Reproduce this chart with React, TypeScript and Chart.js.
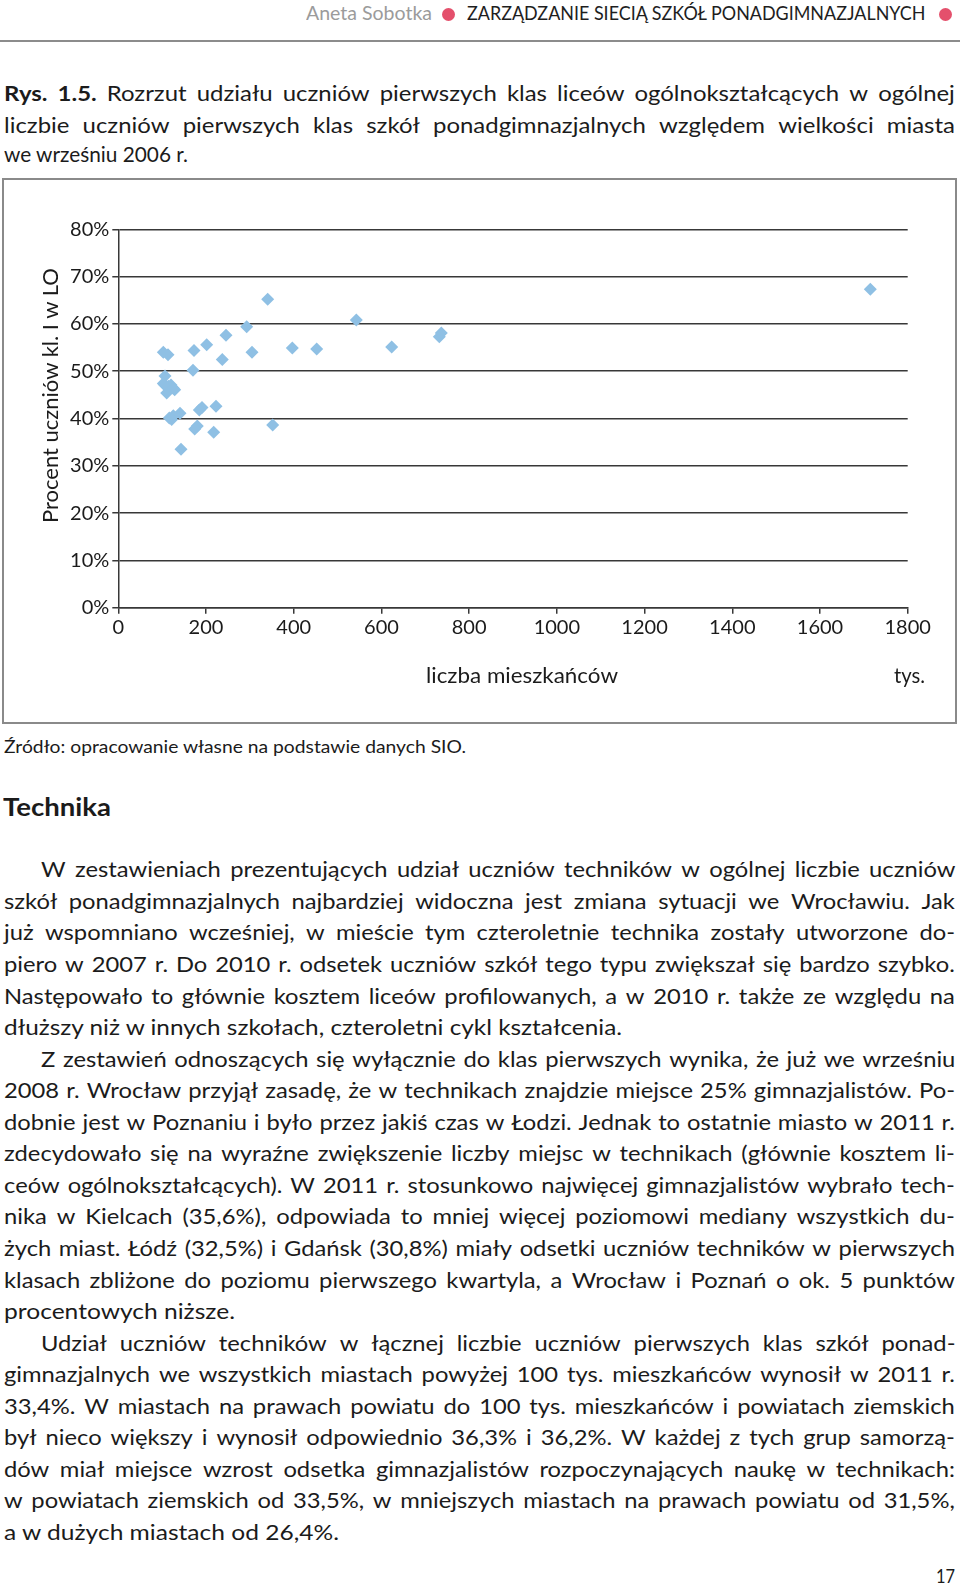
import React, { useEffect, useLayoutEffect, useRef } from "react";
import { Chart, registerables } from "chart.js";

Chart.register(...registerables);

// ---- data ----
const populationK: number[] = [
  102.6, 113.3, 106.5, 104.9, 117.9, 110.3, 128.6, 120.2, 102.6, 114.0, 125.4,
  116.3, 125.4, 121.8, 140.7, 143.0, 172.6, 170.3, 201.5, 245.6, 237.1, 292.8,
  304.9, 340.6, 190.9, 184.7, 222.8, 180.1, 174.2, 217.5, 352.0, 396.8, 452.4,
  542.7, 623.4, 732.0, 736.5, 1714.7,
];
const shareLO: number[] = [
  54.0, 53.5, 49.0, 47.2, 46.6, 45.4, 46.1, 47.1, 47.4, 46.8, 46.4,
  40.1, 40.6, 39.8, 41.1, 33.5, 54.4, 50.2, 55.6, 57.6, 52.5, 59.4,
  54.0, 65.2, 42.3, 41.8, 42.6, 38.4, 37.8, 37.1, 38.6, 54.9, 54.7,
  60.8, 55.1, 57.3, 58.1, 67.3,
];
const xTicks: number[] = [0, 200, 400, 600, 800, 1000, 1200, 1400, 1600, 1800];
const yTicks: number[] = [0, 10, 20, 30, 40, 50, 60, 70, 80];

const FONT = "Lato, 'Open Sans', sans-serif";
const TEXT = "#1b1b1b";
const SX = 1.08; // horizontal glyph scale to mimic the wider original typeface
const DY = 2.5;  // vertical nudge for running text

const captionLines: string[] = [
  "Rys. 1.5. Rozrzut udziału uczniów pierwszych klas liceów ogólnokształcących w ogólnej",
  "liczbie uczniów pierwszych klas szkół ponadgimnazjalnych względem wielkości miasta",
];

// [text, indent, justified]
const bodyLines: [string, boolean, boolean][] = [
  ["W zestawieniach prezentujących udział uczniów techników w ogólnej liczbie uczniów", true, true],
  ["szkół ponadgimnazjalnych najbardziej widoczna jest zmiana sytuacji we Wrocławiu. Jak", false, true],
  ["już wspomniano wcześniej, w mieście tym czteroletnie technika zostały utworzone do-", false, true],
  ["piero w 2007 r. Do 2010 r. odsetek uczniów szkół tego typu zwiększał się bardzo szybko.", false, true],
  ["Następowało to głównie kosztem liceów profilowanych, a w 2010 r. także ze względu na", false, true],
  ["dłuższy niż w innych szkołach, czteroletni cykl kształcenia.", false, false],
  ["Z zestawień odnoszących się wyłącznie do klas pierwszych wynika, że już we wrześniu", true, true],
  ["2008 r. Wrocław przyjął zasadę, że w technikach znajdzie miejsce 25% gimnazjalistów. Po-", false, true],
  ["dobnie jest w Poznaniu i było przez jakiś czas w Łodzi. Jednak to ostatnie miasto w 2011 r.", false, true],
  ["zdecydowało się na wyraźne zwiększenie liczby miejsc w technikach (głównie kosztem li-", false, true],
  ["ceów ogólnokształcących). W 2011 r. stosunkowo najwięcej gimnazjalistów wybrało tech-", false, true],
  ["nika w Kielcach (35,6%), odpowiada to mniej więcej poziomowi mediany wszystkich du-", false, true],
  ["żych miast. Łódź (32,5%) i Gdańsk (30,8%) miały odsetki uczniów techników w pierwszych", false, true],
  ["klasach zbliżone do poziomu pierwszego kwartyla, a Wrocław i Poznań o ok. 5 punktów", false, true],
  ["procentowych niższe.", false, false],
  ["Udział uczniów techników w łącznej liczbie uczniów pierwszych klas szkół ponad-", true, true],
  ["gimnazjalnych we wszystkich miastach powyżej 100 tys. mieszkańców wynosił w 2011 r.", false, true],
  ["33,4%. W miastach na prawach powiatu do 100 tys. mieszkańców i powiatach ziemskich", false, true],
  ["był nieco większy i wynosił odpowiednio 36,3% i 36,2%. W każdej z tych grup samorzą-", false, true],
  ["dów miał miejsce wzrost odsetka gimnazjalistów rozpoczynających naukę w technikach:", false, true],
  ["w powiatach ziemskich od 33,5%, w mniejszych miastach na prawach powiatu od 31,5%,", false, true],
  ["a w dużych miastach od 26,4%.", false, false],
];
const lastLineWidths: Record<number, number> = { 5: 618, 14: 231, 21: 335 };

type FitProps = {
  x: number; y: number; w: number; size: number; weight?: number;
  color?: string; children: React.ReactNode;
};
function FitText({ x, y, w, size, weight = 400, color = TEXT, children }: FitProps) {
  const ref = useRef<HTMLSpanElement>(null);
  useLayoutEffect(() => {
    const el = ref.current;
    if (!el) return;
    el.style.transform = "none";
    const nat = el.getBoundingClientRect().width;
    if (nat > 0) el.style.transform = `scaleX(${w / nat})`;
  });
  return (
    <span
      ref={ref}
      style={{
        position: "absolute", left: x, top: y - 0.734 * size, fontSize: size,
        lineHeight: `${size * 1.2}px`, whiteSpace: "nowrap", transformOrigin: "0 0",
        fontFamily: FONT, fontWeight: weight, color,
      }}
    >
      {children}
    </span>
  );
}

function JustLine({ x, w, y, text, size, boldWords = 0, sx = SX }: { x: number; w: number; y: number; text: string; size: number; boldWords?: number; sx?: number }) {
  const words = text.split(" ");
  return (
    <div
      style={{
        position: "absolute", left: x, width: w / sx, top: y - 0.734 * size, display: "flex",
        justifyContent: "space-between", fontSize: size, lineHeight: `${size * 1.2}px`,
        whiteSpace: "nowrap", fontFamily: FONT, color: TEXT,
        transform: `scaleX(${sx})`, transformOrigin: "0 0",
      }}
    >
      {words.map((wd, i) => (
        <span key={i} style={{ fontWeight: i < boldWords ? 700 : 400 }}>{wd}</span>
      ))}
    </div>
  );
}

function ScatterChart() {
  const canvasRef = useRef<HTMLCanvasElement>(null);
  useEffect(() => {
    const canvas = canvasRef.current;
    if (!canvas) return;
    const points = populationK.map((x, i) => ({ x, y: shareLO[i] }));
    const gridColor = "#383838";
    const chart = new Chart(canvas, {
      type: "scatter",
      data: {
        datasets: [
          {
            data: points,
            pointStyle: "rectRot",
            pointRadius: 6.5,
            backgroundColor: "#8fc0e4",
            borderColor: "#8fc0e4",
            borderWidth: 0,
          },
        ],
      },
      options: {
        responsive: false,
        animation: false,
        layout: { padding: { top: 50.3, right: 52.3, left: 0, bottom: 0 } },
        plugins: { legend: { display: false }, tooltip: { enabled: false } },
        scales: {
          x: {
            type: "linear",
            min: xTicks[0],
            max: xTicks[xTicks.length - 1],
            afterBuildTicks: (s: any) => { s.ticks = xTicks.map((v) => ({ value: v })); },
            afterFit: (s: any) => { s.height = 115.3; },
            ticks: {
              font: { family: FONT, size: 20 }, color: TEXT, padding: 2, maxRotation: 0, autoSkip: false,
              callback: (v: any) => String(v),
            },
            grid: { drawOnChartArea: false, drawTicks: true, tickLength: 6, color: gridColor, lineWidth: 1.5 },
            border: { display: true, color: gridColor, width: 1.5 },
          },
          y: {
            type: "linear",
            min: yTicks[0],
            max: yTicks[yTicks.length - 1],
            afterBuildTicks: (s: any) => { s.ticks = yTicks.map((v) => ({ value: v })); },
            afterFit: (s: any) => { s.width = 118.3; },
            ticks: { font: { family: FONT, size: 20 }, color: TEXT, padding: 3, callback: (v: any) => `${v}%` },
            grid: { drawOnChartArea: true, drawTicks: true, tickLength: 6, color: gridColor, lineWidth: 1.5 },
            border: { display: true, color: gridColor, width: 1.5 },
          },
        },
      },
    });
    return () => chart.destroy();
  }, []);
  return (
    <canvas
      ref={canvasRef}
      width={960}
      height={544}
      style={{ position: "absolute", left: 0, top: 179, width: 960, height: 544 }}
    />
  );
}

export default function App() {
  const bodyTop = 870 + DY;
  const lh = 31.55;
  return (
    <div style={{ position: "absolute", left: 0, top: 0, width: 960, height: 1586, background: "#fff", overflow: "hidden", fontFamily: FONT }}>
      {/* header */}
      <FitText x={305.7} y={16} w={126} size={19} color="#9b9b9b">Aneta Sobotka</FitText>
      <div style={{ position: "absolute", left: 448.7 - 6.5, top: 14 - 6.5, width: 13, height: 13, borderRadius: "50%", background: "#e4506c" }} />
      <FitText x={466.7} y={16} w={458.5} size={19} color="#1e1e1e">ZARZĄDZANIE SIECIĄ SZKÓŁ PONADGIMNAZJALNYCH</FitText>
      <div style={{ position: "absolute", left: 945 - 6.5, top: 14 - 6.5, width: 13, height: 13, borderRadius: "50%", background: "#e4506c" }} />
      <div style={{ position: "absolute", left: 0, top: 40, width: 960, height: 2, background: "#8c8c8c" }} />

      {/* caption */}
      <JustLine x={4} w={951} y={93 + DY} text={captionLines[0]} size={21} boldWords={2} sx={1.14} />
      <JustLine x={4} w={951} y={124.5 + DY} text={captionLines[1]} size={21} sx={1.14} />
      <FitText x={4} y={154 + DY} w={184} size={21}>we wrześniu 2006 r.</FitText>

      {/* chart box */}
      <div style={{ position: "absolute", left: 2, top: 178, width: 955, height: 546, border: "2px solid #8a8a8a", boxSizing: "border-box" }} />
      <ScatterChart />
      <div
        style={{
          position: "absolute", left: 50 - 123, top: 399.7 - 13, width: 246, height: 26,
          transform: "rotate(-90deg)", transformOrigin: "50% 50%", textAlign: "center",
          fontSize: 22, lineHeight: "26px", whiteSpace: "nowrap", color: TEXT,
        }}
      >
        Procent uczniów kl. I w LO
      </div>
      <FitText x={426} y={678} w={192} size={22}>liczba mieszkańców</FitText>
      <FitText x={894} y={678} w={31} size={22}>tys.</FitText>

      <FitText x={4} y={747 + DY} w={462} size={18}>Źródło: opracowanie własne na podstawie danych SIO.</FitText>
      <FitText x={3} y={807 + DY} w={108} size={25} weight={700}>Technika</FitText>

      {/* body */}
      {bodyLines.map(([t, indent, just], i) => {
        const y = bodyTop + i * lh;
        const x = indent ? 40.5 : 4;
        if (just) return <JustLine key={i} x={x} w={955 - x} y={y} text={t} size={22} />;
        return <FitText key={i} x={x} y={y} w={lastLineWidths[i]} size={22}>{t}</FitText>;
      })}

      <FitText x={936} y={1578} w={19} size={20}>17</FitText>
    </div>
  );
}
